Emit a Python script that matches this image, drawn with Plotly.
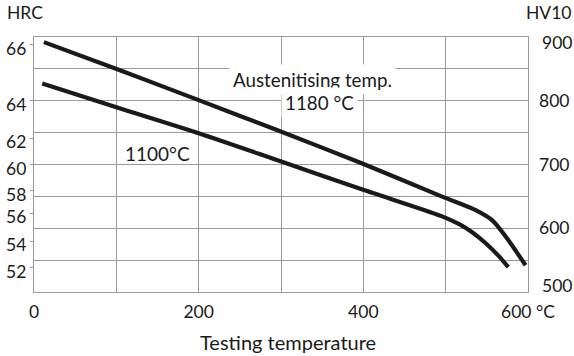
import plotly.graph_objects as go

# Data (testing temperature in °C, hardness in HV10)
temp_1180 = [12, 102, 200, 295, 398, 495, 537, 557, 574, 586, 597]
hv_1180 = [892, 849, 801, 754, 702, 650, 628, 612, 585, 563, 542]
temp_1100 = [10, 102, 200, 295, 398, 495, 517, 533, 550, 564, 576]
hv_1100 = [827, 789, 749, 707, 661, 619, 606, 593, 575, 557, 539]

# Axis ticks
x_grid = [0, 100, 200, 300, 400, 500, 600]
x_labels = ["0", "", "200", "", "400", "", "600 °C"]
hrc_pos = [887.5, 800, 741, 700, 659, 623.5, 580, 538]  # HV-scale positions of HRC labels
hrc_labels = ["66", "64", "62", "60", "58", "56", "54", "52"]
hv_grid = [500, 550, 600, 650, 700, 750, 800, 850, 900]
hv_labels = ["", "", "600", "", "700", "", "800", "", ""]
hv_end_vals = [900, 500]
hv_end_shift = [-5, 7]

FONT = "Lato"
TXT = "#1a1a1a"
GRID = "#9a9a9a"
LINE = "#1a1a1a"

fig = go.Figure()
fig.add_trace(go.Scatter(x=temp_1180, y=hv_1180, mode="lines",
                         line=dict(color=LINE, width=4.2, shape="spline", smoothing=0.8),
                         showlegend=False, hoverinfo="skip"))
fig.add_trace(go.Scatter(x=temp_1100, y=hv_1100, mode="lines",
                         line=dict(color=LINE, width=4.2, shape="spline", smoothing=0.8),
                         showlegend=False, hoverinfo="skip"))
# dummy trace for right axis
fig.add_trace(go.Scatter(x=[0], y=[700], yaxis="y2", mode="markers",
                         marker=dict(opacity=0), showlegend=False, hoverinfo="skip"))

fig.update_layout(
    width=574, height=356,
    margin=dict(l=34, r=46, t=37, b=64, autoexpand=False),
    paper_bgcolor="white", plot_bgcolor="white",
    font=dict(family=FONT, size=17, color=TXT),
    xaxis=dict(range=[0, 600], tickmode="array", tickvals=x_grid, ticktext=x_labels,
               showgrid=True, gridcolor=GRID, gridwidth=1.4,
               showline=True, linecolor=GRID, linewidth=1.4, mirror=True,
               ticks="", zeroline=False, ticklabelstandoff=4, tickfont=dict(size=17.5)),
    yaxis=dict(range=[500, 900], tickmode="array", tickvals=hrc_pos, ticktext=hrc_labels,
               showgrid=False, showline=True, linecolor=GRID, linewidth=1.4, mirror=True,
               ticks="outside", ticklen=3, tickcolor=GRID, tickwidth=1.2,
               ticklabelshift=4, zeroline=False, tickfont=dict(size=17.5)),
    yaxis2=dict(range=[500, 900], overlaying="y", side="right", tickmode="array",
                tickvals=hv_grid, ticktext=hv_labels,
                showgrid=True, gridcolor=GRID, gridwidth=1.4, ticks="", zeroline=False,
                ticklabelstandoff=10, tickfont=dict(size=17.5)),
)

# right-axis end labels (nudged inward like the original)
for v, s in zip(hv_end_vals, hv_end_shift):
    fig.add_annotation(x=1, xref="paper", y=v, yref="y2", text=str(v), showarrow=False,
                       xanchor="left", xshift=12, yshift=s, font=dict(size=17.5, color=TXT))

# axis titles
fig.add_annotation(x=0, xref="paper", y=1, yref="paper", text="HRC", showarrow=False,
                   xanchor="left", yanchor="bottom", xshift=-29, yshift=12,
                   font=dict(size=17.5, color=TXT))
fig.add_annotation(x=1, xref="paper", y=1, yref="paper", text="HV10", showarrow=False,
                   xanchor="right", yanchor="bottom", xshift=46, yshift=12,
                   font=dict(size=17.5, color=TXT))
fig.add_annotation(x=0.515, xref="paper", y=0, yref="paper", text="Testing temperature",
                   showarrow=False, yanchor="top", yshift=-36,
                   font=dict(size=20, color=TXT))

# curve labels
fig.add_annotation(x=338, y=834, text="Austenitising temp.", showarrow=False,
                   bgcolor="white", borderpad=3, font=dict(size=18.8, color=TXT))
fig.add_annotation(x=347, y=798, text="1180 °C", showarrow=False,
                   bgcolor="white", borderpad=3, font=dict(size=18.8, color=TXT))
fig.add_annotation(x=150, y=718, text="1100°C", showarrow=False,
                   font=dict(size=19, color=TXT))

fig.write_html("out.html")
